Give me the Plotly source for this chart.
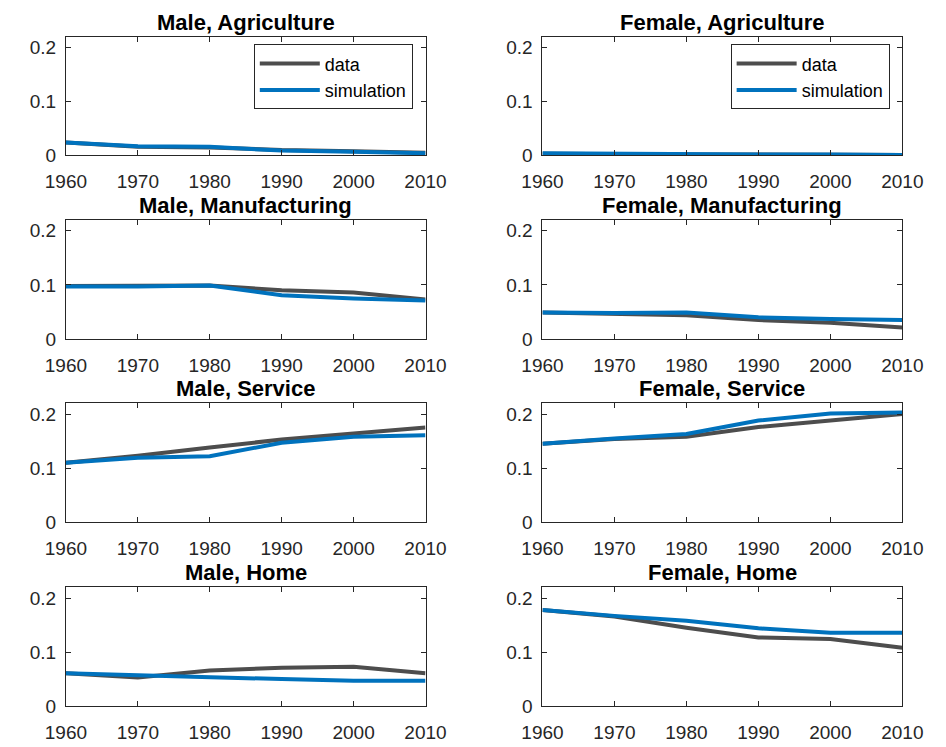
import plotly.graph_objects as go
from plotly.subplots import make_subplots

years = [1960, 1970, 1980, 1990, 2000, 2010]

male_agr_data = [0.024, 0.016, 0.015, 0.010, 0.008, 0.005]
male_agr_sim = [0.024, 0.017, 0.016, 0.009, 0.007, 0.004]
female_agr_data = [0.003, 0.002, 0.002, 0.002, 0.001, 0.001]
female_agr_sim = [0.004, 0.003, 0.003, 0.002, 0.002, 0.001]
male_man_data = [0.098, 0.099, 0.099, 0.090, 0.086, 0.073]
male_man_sim = [0.097, 0.097, 0.099, 0.081, 0.075, 0.071]
female_man_data = [0.049, 0.047, 0.044, 0.035, 0.030, 0.021]
female_man_sim = [0.049, 0.048, 0.049, 0.040, 0.037, 0.035]
male_ser_data = [0.110, 0.123, 0.138, 0.153, 0.164, 0.175]
male_ser_sim = [0.110, 0.119, 0.122, 0.147, 0.158, 0.161]
female_ser_data = [0.145, 0.154, 0.158, 0.176, 0.188, 0.200]
female_ser_sim = [0.145, 0.155, 0.163, 0.188, 0.201, 0.203]
male_home_data = [0.061, 0.053, 0.066, 0.071, 0.073, 0.061]
male_home_sim = [0.061, 0.057, 0.053, 0.050, 0.047, 0.047]
female_home_data = [0.178, 0.166, 0.145, 0.127, 0.124, 0.108]
female_home_sim = [0.178, 0.167, 0.158, 0.144, 0.136, 0.136]

panel_titles = [
    "Male, Agriculture", "Female, Agriculture",
    "Male, Manufacturing", "Female, Manufacturing",
    "Male, Service", "Female, Service",
    "Male, Home", "Female, Home",
]
panel_data = [
    male_agr_data, female_agr_data,
    male_man_data, female_man_data,
    male_ser_data, female_ser_data,
    male_home_data, female_home_data,
]
panel_sim = [
    male_agr_sim, female_agr_sim,
    male_man_sim, female_man_sim,
    male_ser_sim, female_ser_sim,
    male_home_sim, female_home_sim,
]

y_ticks = [0, 0.1, 0.2]
y_tick_text = ["0", "0.1", "0.2"]
x_ticks = years
x_tick_text = [str(y) for y in years]

W, H = 946, 747
DATA_COLOR = "#4D4D4D"
SIM_COLOR = "#0072BD"
AXIS_COLOR = "#262626"
FONT = "Liberation Sans, Arial, Helvetica, sans-serif"

# pixel extents of the panel grid
col_px = [(47.0, 423.3), (545.7, 922.3)]
row_px = [(37.3, 157.8), (223.3, 344.0), (409.3, 530.0), (596.0, 716.7)]

fig = make_subplots(rows=4, cols=2)

for i in range(8):
    r, c = divmod(i, 2)
    legend_name = "legend" if c == 0 else "legend2"
    show = r == 0
    fig.add_trace(go.Scatter(
        x=years, y=panel_data[i], mode="lines", name="data",
        line=dict(color=DATA_COLOR, width=4),
        showlegend=show, legend=legend_name,
    ), row=r + 1, col=c + 1)
    fig.add_trace(go.Scatter(
        x=years, y=panel_sim[i], mode="lines", name="simulation",
        line=dict(color=SIM_COLOR, width=4),
        showlegend=show, legend=legend_name,
    ), row=r + 1, col=c + 1)

    k = "" if i == 0 else str(i + 1)
    x0, x1 = col_px[c]
    t, b = row_px[r]
    fig.layout["xaxis" + k].update(
        domain=[x0 / W, x1 / W], range=[1960, 2010],
        tickvals=x_ticks, ticktext=x_tick_text,
        showline=True, mirror="allticks", linecolor=AXIS_COLOR, linewidth=1,
        ticks="inside", ticklen=5, tickcolor=AXIS_COLOR, tickwidth=1,
        showgrid=False, zeroline=False, ticklabelstandoff=9,
        tickfont=dict(family=FONT, size=19, color=AXIS_COLOR),
    )
    fig.layout["yaxis" + k].update(
        domain=[1 - b / H, 1 - t / H], range=[0, 0.22],
        tickvals=y_ticks, ticktext=y_tick_text,
        showline=True, mirror="allticks", linecolor=AXIS_COLOR, linewidth=1,
        ticks="inside", ticklen=5, tickcolor=AXIS_COLOR, tickwidth=1,
        showgrid=False, zeroline=False, ticklabelstandoff=5,
        tickfont=dict(family=FONT, size=19, color=AXIS_COLOR),
    )
    fig.add_annotation(
        text="<b>" + panel_titles[i] + "</b>",
        xref="x" + k + " domain", yref="y" + k + " domain",
        x=0.5, y=1, xanchor="center", yanchor="bottom", yshift=0,
        showarrow=False, font=dict(family=FONT, size=22, color="#000000"),
    )

legend_style = dict(
    xanchor="right", yanchor="top",
    bgcolor="#FFFFFF", bordercolor=AXIS_COLOR, borderwidth=1,
    font=dict(family=FONT, size=18, color="#000000"),
    itemwidth=60, tracegroupgap=0,
)
fig.update_layout(
    width=W, height=H,
    margin=dict(l=0, r=0, t=0, b=0),
    paper_bgcolor="#FFFFFF", plot_bgcolor="#FFFFFF",
    showlegend=True,
    legend=dict(x=410 / W, y=1 - 45 / H, **legend_style),
    legend2=dict(x=909 / W, y=1 - 45 / H, **legend_style),
)

fig.write_html("out.html")
